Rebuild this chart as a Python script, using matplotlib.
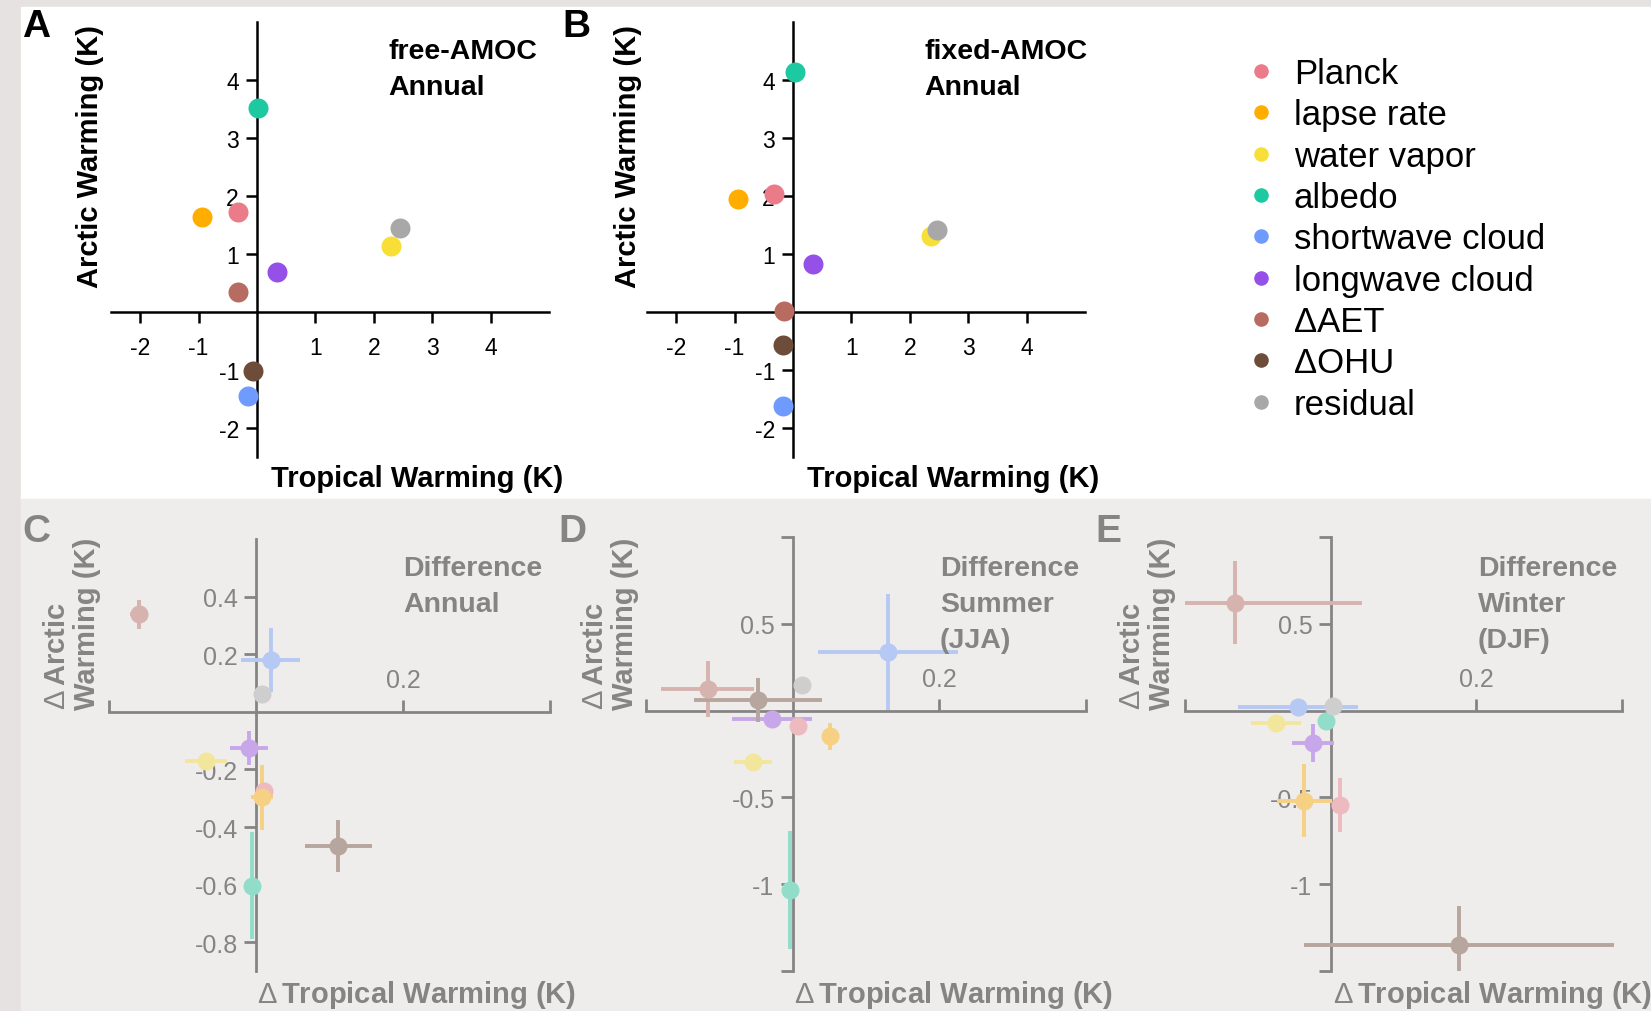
import matplotlib
matplotlib.use('Agg')
import matplotlib.pyplot as plt
from matplotlib.lines import Line2D
from matplotlib.patches import Rectangle

plt.rcParams['font.family'] = ['Liberation Sans', 'DejaVu Sans']
plt.rcParams['mathtext.fontset'] = 'custom'
plt.rcParams['mathtext.rm'] = 'Liberation Sans'

W, H = 1651, 1012

names = ['Planck', 'lapse rate', 'water vapor', 'albedo', 'shortwave cloud',
         'longwave cloud', '\u0394AET', '\u0394OHU', 'residual']
colors = ['#ec7b8a', '#ffae00', '#f7df37', '#1dc9a0', '#6f9bff',
          '#9550e8', '#b86b60', '#6e4c3a', '#a8a8a8']

# panel A: free-AMOC annual
free_x = [-0.33, -0.95, 2.29, 0.02, -0.16, 0.34, -0.32, -0.07, 2.45]
free_y = [1.73, 1.63, 1.13, 3.51, -1.44, 0.69, 0.34, -1.02, 1.45]

# panel B: fixed-AMOC annual
fixed_x = [-0.33, -0.95, 2.37, 0.03, -0.17, 0.35, -0.15, -0.17, 2.47]
fixed_y = [2.03, 1.94, 1.31, 4.13, -1.62, 0.83, 0.02, -0.57, 1.42]

# panel C: difference annual
ann_x = [0.011, 0.008, -0.068, -0.005, 0.02, -0.010, -0.159, 0.112, 0.008]
ann_y = [-0.274, -0.297, -0.170, -0.604, 0.18, -0.126, 0.339, -0.467, 0.061]
ann_xerr = [0.01, 0.015, 0.028, 0.005, 0.04, 0.026, 0.012, 0.046, 0.0]
ann_yerr = [0.02, 0.113, 0.02, 0.185, 0.11, 0.058, 0.05, 0.09, 0.0]

# panel D: difference summer (JJA)
jja_x = [0.007, 0.051, -0.054, -0.003, 0.130, -0.028, -0.116, -0.047, 0.013]
jja_y = [-0.09, -0.148, -0.294, -1.035, 0.336, -0.048, 0.125, 0.062, 0.148]
jja_xerr = [0.005, 0.008, 0.026, 0.003, 0.095, 0.055, 0.063, 0.087, 0.0]
jja_yerr = [0.02, 0.079, 0.01, 0.341, 0.333, 0.01, 0.159, 0.125, 0.0]

# panel E: difference winter (DJF)
djf_x = [0.0125, -0.036, -0.075, -0.006, -0.045, -0.024, -0.131, 0.176, 0.003]
djf_y = [-0.544, -0.519, -0.073, -0.062, 0.019, -0.188, 0.621, -1.352, 0.029]
djf_xerr = [0.005, 0.0375, 0.034, 0.005, 0.082, 0.029, 0.174, 0.213, 0.0]
djf_yerr = [0.154, 0.21, 0.01, 0.02, 0.01, 0.108, 0.24, 0.227, 0.0]


def rect(x0, y0, x1, y1):
    return [x0 / W, 1 - y1 / H, (x1 - x0) / W, (y1 - y0) / H]


def fx(x):
    return x / W


def fy(y):
    return 1 - y / H


fig = plt.figure(figsize=(W / 100, H / 100), dpi=100, facecolor='#e6e2e2')
fig.add_artist(Rectangle((fx(21), fy(500)), 1 - fx(21), fy(8) - fy(500),
                         transform=fig.transFigure, color='white', zorder=-10))
fig.add_artist(Rectangle((fx(21), 0), 1 - fx(21), fy(500),
                         transform=fig.transFigure, color='#efedec', zorder=-10))


def top_panel(box, xs, ys, letter, lx, title, tx, ylx):
    ax = fig.add_axes(rect(*box))
    ax.set_facecolor('none')
    ax.set_xlim(-2.5, 5)
    ax.set_ylim(-2.5, 5)
    for s in ['top', 'right']:
        ax.spines[s].set_visible(False)
    for s in ['left', 'bottom']:
        ax.spines[s].set_position(('data', 0))
        ax.spines[s].set_linewidth(1.8)
    ax.set_xticks([-2, -1, 1, 2, 3, 4])
    ax.set_yticks([-2, -1, 1, 2, 3, 4])
    ax.set_xticklabels(['-2', '-1', '1', '2', '3', '4'])
    ax.set_yticklabels(['-2', '-1', '1', '2', '3', '4'])
    ax.tick_params(direction='out', length=8, width=1.8, labelsize=16.5)
    ax.tick_params(axis='x', pad=9)
    ax.tick_params(axis='y', pad=5)
    for i in range(len(names)):
        ax.plot(xs[i], ys[i], 'o', color=colors[i], ms=14.4, mew=0, zorder=3,
                clip_on=False)
    fig.text(fx(lx), fy(9), letter, fontsize=28, fontweight='bold', va='top')
    fig.text(fx(tx), fy(39), title, fontsize=20.5, fontweight='bold', va='top',
             linespacing=1.5)
    fig.text(fx(ylx), fy(157), 'Arctic Warming (K)', rotation=90, fontsize=21,
             fontweight='bold', ha='center', va='center')
    fig.text(fx(box[0] + 160), fy(487), 'Tropical Warming (K)', fontsize=21,
             fontweight='bold', va='baseline')
    return ax


top_panel((111, 23, 549, 458), free_x, free_y, 'A', 22, 'free-AMOC\nAnnual', 388, 90)
top_panel((647, 23, 1085, 458), fixed_x, fixed_y, 'B', 562, 'fixed-AMOC\nAnnual', 924, 628)

handles = [Line2D([], [], marker='o', ls='', color=c, ms=10.5, mew=0) for c in colors]
fig.legend(handles, names, loc='upper left', bbox_to_anchor=(fx(1247), fy(58)),
           frameon=False, fontsize=25, borderpad=0, borderaxespad=0,
           handlelength=0.8, handletextpad=0.55, labelspacing=0.24)


def diff_panel(box, ylim, yticks, ylabels, xs, ys, xe, ye, letter, lx, title, tx, ylx):
    ax = fig.add_axes(rect(*box))
    ax.set_facecolor('none')
    ax.set_xlim(-0.2, 0.4)
    ax.set_ylim(*ylim)
    ax.spines['right'].set_visible(False)
    ax.spines['bottom'].set_visible(False)
    ax.spines['left'].set_position(('data', 0))
    ax.spines['top'].set_position(('data', 0))
    for s in ['left', 'top']:
        ax.spines[s].set_linewidth(2)
    ax.xaxis.set_ticks_position('top')
    ax.set_xticks([-0.2, 0.2, 0.4])
    ax.set_xticklabels(['', '0.2', ''])
    ax.set_yticks(yticks)
    ax.set_yticklabels(ylabels)
    ax.tick_params(direction='out', length=9, width=2, labelsize=18)
    ax.tick_params(axis='x', pad=5)
    ax.tick_params(axis='y', pad=4)
    for i in range(len(names)):
        ax.errorbar(xs[i], ys[i], xerr=xe[i], yerr=ye[i], fmt='o', color=colors[i],
                    ms=13, mew=0, elinewidth=2.8, capsize=0, zorder=3)
    fig.text(fx(lx), fy(514), letter, fontsize=28, fontweight='bold', va='top')
    fig.text(fx(tx), fy(556), title, fontsize=20.5, fontweight='bold', va='top',
             linespacing=1.5)
    fig.text(fx(ylx), fy(710), '$\\Delta\\,$Arctic\nWarming (K)', rotation=90,
             fontsize=21, fontweight='bold', ha='center', va='bottom',
             multialignment='left', linespacing=1.1)
    fig.text(fx(box[0] + 148), fy(1003), '$\\Delta\\,$Tropical Warming (K)',
             fontsize=21, fontweight='bold', va='baseline')
    return ax


diff_panel((109, 540, 550, 972), (-0.9, 0.6), [-0.8, -0.6, -0.4, -0.2, 0.2, 0.4],
           ['-0.8', '-0.6', '-0.4', '-0.2', '0.2', '0.4'],
           ann_x, ann_y, ann_xerr, ann_yerr, 'C', 22, 'Difference\nAnnual', 403, 72)
diff_panel((646, 538, 1086, 972), (-1.5, 1.0), [-1.5, -1, -0.5, 0.5, 1.0],
           ['', '-1', '-0.5', '0.5', ''],
           jja_x, jja_y, jja_xerr, jja_yerr, 'D', 558, 'Difference\nSummer\n(JJA)', 940, 610)
diff_panel((1185, 538, 1622, 972), (-1.5, 1.0), [-1.5, -1, -0.5, 0.5, 1.0],
           ['', '-1', '-0.5', '0.5', ''],
           djf_x, djf_y, djf_xerr, djf_yerr, 'E', 1095, 'Difference\nWinter\n(DJF)', 1478, 1147)

# faded overlay on the difference panels
fig.add_artist(Rectangle((fx(21), 0), 1 - fx(21), fy(500), transform=fig.transFigure,
                         color='#efedec', alpha=0.56, zorder=10))

fig.savefig('out.png', dpi=100, facecolor=fig.get_facecolor())
